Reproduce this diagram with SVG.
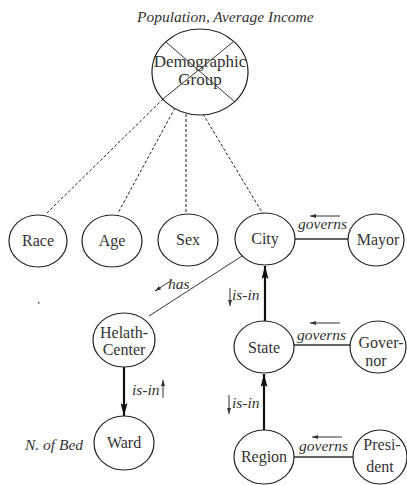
<svg xmlns="http://www.w3.org/2000/svg" width="407" height="485" viewBox="0 0 407 485">
  <defs>
    <marker id="head" viewBox="0 0 13 7" refX="13" refY="3.5" markerWidth="13" markerHeight="7" markerUnits="userSpaceOnUse" orient="auto">
      <path d="M0,0 L13,3.5 L0,7 L2.5,3.5 Z" fill="#111"/>
    </marker>
    <marker id="tiny" viewBox="0 0 6 4" refX="6" refY="2" markerWidth="6" markerHeight="4" markerUnits="userSpaceOnUse" orient="auto">
      <path d="M0,0 L6,2 L0,4 Z" fill="#333"/>
    </marker>
    <style>
      .node ellipse { fill: #fff; stroke: #222; stroke-width: 1.2; }
      .node text { font-size: 16px; fill: #333; text-anchor: middle; }
      .lbl { font-size: 15.5px; font-style: italic; fill: #333; }
      .dash { stroke: #222; stroke-width: 1; stroke-dasharray: 3 2; fill: none; }
      .isin { stroke: #111; stroke-width: 2.2; fill: none; marker-end: url(#head); }
      .gov { stroke: #666; stroke-width: 1.8; fill: none; }
      .thin { stroke: #333; stroke-width: 1; fill: none; }
      .hint { stroke: #333; stroke-width: 1; fill: none; marker-end: url(#tiny); }
    </style>
  </defs>

  <g font-family="'Liberation Serif', 'Times New Roman', 'DejaVu Serif', serif">
  <!-- attribute labels -->
  <text class="lbl" x="137" y="22">Population, Average Income</text>
  <text class="lbl" x="25" y="450">N. of Bed</text>
  <rect x="38" y="302" width="1.5" height="1.5" fill="#444"/>

  <!-- connectors -->
  <g id="connectors">
    <line class="dash" x1="163" y1="99" x2="47" y2="213"/>
    <line class="dash" x1="175" y1="108" x2="118" y2="213"/>
    <line class="dash" x1="186" y1="114" x2="186" y2="214"/>
    <line class="dash" x1="203" y1="114" x2="263" y2="214"/>

    <line class="thin" x1="242" y1="256" x2="149" y2="316"/>
    <line class="hint" x1="172" y1="280" x2="155" y2="291"/>
    <text class="lbl" x="168" y="289">has</text>

    <line class="gov" x1="295" y1="239" x2="348" y2="239"/>
    <line class="hint" x1="340" y1="216" x2="310" y2="216"/>
    <text class="lbl" x="298" y="229">governs</text>

    <line class="gov" x1="294" y1="345" x2="350" y2="345"/>
    <line class="hint" x1="340" y1="323" x2="310" y2="323"/>
    <text class="lbl" x="297" y="340">governs</text>

    <line class="gov" x1="294" y1="457" x2="353" y2="457"/>
    <line class="hint" x1="342" y1="437" x2="312" y2="437"/>
    <text class="lbl" x="299" y="451">governs</text>

    <line class="isin" x1="265" y1="321" x2="265" y2="266"/>
    <line class="hint" x1="230" y1="288" x2="230" y2="306"/>
    <text class="lbl" x="232" y="300">is-in</text>

    <line class="isin" x1="264" y1="430" x2="264" y2="374"/>
    <line class="hint" x1="229" y1="395" x2="229" y2="414"/>
    <text class="lbl" x="232" y="408">is-in</text>

    <line class="isin" x1="124" y1="367" x2="124" y2="416"/>
    <line class="hint" x1="163" y1="398" x2="163" y2="380"/>
    <text class="lbl" x="132" y="395">is-in</text>
  </g>

  <!-- nodes -->
  <g id="demographic-group" class="node">
    <ellipse cx="200" cy="72" rx="48" ry="43"/>
    <text x="200" y="67" style="font-size:17px">Demographic</text>
    <text x="200" y="85" style="font-size:17px">Group</text>
    <line class="thin" x1="166" y1="42" x2="235" y2="102"/>
    <line class="thin" x1="233" y1="42" x2="163" y2="99"/>
  </g>
  <g id="race" class="node">
    <ellipse cx="38" cy="241" rx="29" ry="26"/>
    <text x="38" y="246">Race</text>
  </g>
  <g id="age" class="node">
    <ellipse cx="112" cy="241" rx="30" ry="26"/>
    <text x="112" y="246">Age</text>
  </g>
  <g id="sex" class="node">
    <ellipse cx="188" cy="240" rx="30" ry="26"/>
    <text x="188" y="245">Sex</text>
  </g>
  <g id="city" class="node">
    <ellipse cx="265" cy="239" rx="30" ry="26"/>
    <text x="265" y="244">City</text>
  </g>
  <g id="mayor" class="node">
    <ellipse cx="376" cy="240" rx="28" ry="26"/>
    <text x="378" y="245">Mayor</text>
  </g>
  <g id="health-center" class="node">
    <ellipse cx="124" cy="340" rx="31" ry="27"/>
    <text x="124" y="338">Helath-</text>
    <text x="124" y="355">Center</text>
  </g>
  <g id="state" class="node">
    <ellipse cx="264" cy="347" rx="30" ry="26"/>
    <text x="264" y="353">State</text>
  </g>
  <g id="governor" class="node">
    <ellipse cx="378" cy="347" rx="28" ry="26"/>
    <text x="381" y="348">Gover-</text>
    <text x="376" y="366">nor</text>
  </g>
  <g id="ward" class="node">
    <ellipse cx="124" cy="443" rx="30" ry="27"/>
    <text x="124" y="448">Ward</text>
  </g>
  <g id="region" class="node">
    <ellipse cx="264" cy="457" rx="30" ry="27"/>
    <text x="264" y="462">Region</text>
  </g>
  <g id="president" class="node">
    <ellipse cx="380" cy="457" rx="27" ry="27"/>
    <text x="382" y="450">Presi-</text>
    <text x="380" y="472">dent</text>
  </g>
  </g>
</svg>
